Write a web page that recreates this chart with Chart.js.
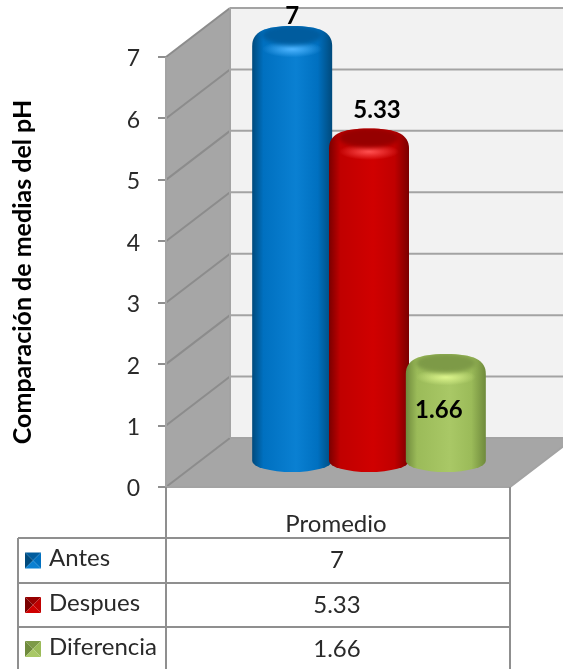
<!DOCTYPE html>
<html>
<head>
<meta charset="utf-8">
<title>Comparación de medias del pH</title>
<script src="https://cdn.jsdelivr.net/npm/chart.js@4"></script>
<style>
    html, body { margin: 0; padding: 0; background: #fff; overflow: hidden; }
    canvas { display: block; }
</style>
</head>
<body>
<canvas id="ph-chart" width="563" height="669"></canvas>
<script>
const categories = ['Promedio'];
const seriesNames = ['Antes', 'Despues', 'Diferencia'];
const antes = [7];
const despues = [5.33];
const diferencia = [1.66];
const yTicks = [0, 1, 2, 3, 4, 5, 6, 7];

const FONT = 'Lato, "Open Sans", sans-serif';
const TEXT = '#2a2a2a';
const LINE = '#8f8f8f';

// dark edge, main, bright middle, cap, highlight
const colours = [
    { edge: '#004a7c', main: '#0070c0', bright: '#0a80d2', cap: '#005c9e', glow: '#4db4ff' },
    { edge: '#7a0000', main: '#c00000', bright: '#d00000', cap: '#960000', glow: '#ff5050' },
    { edge: '#6f8a3c', main: '#9bbb59', bright: '#a9c866', cap: '#7d9a47', glow: '#dcf58c' }
];

// 3D box, offsets from the front axis to the back wall
const DEPTH_X = 64;
const DEPTH_Y = 49;

function drawWalls(chart) {
    const ctx = chart.ctx;
    const { left, right, top, bottom } = chart.chartArea;
    const y = chart.scales.y;

    ctx.save();
    // back wall
    ctx.fillStyle = '#f2f2f2';
    ctx.fillRect(left + DEPTH_X, top - DEPTH_Y, 563 - left - DEPTH_X, bottom - top);
    // left wall
    ctx.fillStyle = '#a6a6a6';
    ctx.beginPath();
    ctx.moveTo(left, top);
    ctx.lineTo(left + DEPTH_X, top - DEPTH_Y);
    ctx.lineTo(left + DEPTH_X, bottom - DEPTH_Y);
    ctx.lineTo(left, bottom);
    ctx.closePath();
    ctx.fill();
    // floor
    ctx.beginPath();
    ctx.moveTo(left, bottom);
    ctx.lineTo(left + DEPTH_X, bottom - DEPTH_Y);
    ctx.lineTo(right + DEPTH_X, bottom - DEPTH_Y);
    ctx.lineTo(right, bottom);
    ctx.closePath();
    ctx.fill();

    ctx.lineWidth = 2;
    yTicks.forEach((t) => {
        const py = y.getPixelForValue(t);
        ctx.strokeStyle = '#8c8c8c';
        ctx.beginPath();
        ctx.moveTo(left, py);
        ctx.lineTo(left + DEPTH_X, py - DEPTH_Y);
        ctx.stroke();
        ctx.strokeStyle = '#a3a3a3';
        ctx.beginPath();
        ctx.moveTo(left + DEPTH_X, py - DEPTH_Y);
        ctx.lineTo(right + DEPTH_X, py - DEPTH_Y);
        ctx.stroke();
    });
    ctx.strokeStyle = '#a3a3a3';
    ctx.beginPath();
    ctx.moveTo(left + DEPTH_X, top - DEPTH_Y);
    ctx.lineTo(left + DEPTH_X, bottom - DEPTH_Y);
    ctx.moveTo(left, top);
    ctx.lineTo(left, bottom);
    ctx.moveTo(left, bottom);
    ctx.lineTo(right, bottom);
    ctx.lineTo(right + DEPTH_X, bottom - DEPTH_Y);
    ctx.stroke();
    ctx.restore();
}

function drawCylinder(ctx, bar, c) {
    const cx = bar.x + 31;
    const rx = 40;
    const ry = 13;
    const topY = bar.y - 18;
    const baseY = bar.base - 25;
    const x0 = cx - rx;
    const x1 = cx + rx;

    const side = ctx.createLinearGradient(x0, 0, x1, 0);
    side.addColorStop(0, c.edge);
    side.addColorStop(0.14, c.main);
    side.addColorStop(0.55, c.bright);
    side.addColorStop(0.82, c.main);
    side.addColorStop(1, c.edge);

    ctx.save();
    ctx.beginPath();
    ctx.moveTo(x0, baseY);
    ctx.lineTo(x0, topY + 7);
    ctx.bezierCurveTo(x0, topY - 7, cx - 28, topY - ry, cx, topY - ry);
    ctx.bezierCurveTo(cx + 28, topY - ry, x1, topY - 7, x1, topY + 7);
    ctx.lineTo(x1, baseY);
    ctx.ellipse(cx, baseY, rx, 11, 0, 0, Math.PI);
    ctx.closePath();
    ctx.fillStyle = side;
    ctx.fill();
    ctx.clip();

    // highlight on the rim
    const glow = ctx.createRadialGradient(cx, topY + 10, 1, cx, topY + 10, 30);
    glow.addColorStop(0, c.glow);
    glow.addColorStop(1, c.glow + '00');
    ctx.save();
    ctx.translate(cx, topY + 10);
    ctx.scale(1, 0.28);
    ctx.translate(-cx, -(topY + 10));
    ctx.fillStyle = glow;
    ctx.fillRect(cx - 40, topY - 60, 80, 140);
    ctx.restore();

    // inner top of the cylinder
    ctx.fillStyle = c.cap;
    ctx.filter = 'blur(2px)';
    ctx.beginPath();
    ctx.ellipse(cx, topY - 4, rx - 10, 10, 0, 0, Math.PI * 2);
    ctx.fill();
    ctx.restore();
}

function drawKey(ctx, x, y, s, c) {
    const mx = x + s / 2;
    const my = y + s / 2;
    const faces = [
        [c.cap, [x, y], [x + s, y]],
        [c.edge, [x, y], [x, y + s]],
        [c.main, [x + s, y], [x + s, y + s]],
        [c.bright, [x, y + s], [x + s, y + s]]
    ];
    faces.forEach(([fill, a, b]) => {
        ctx.fillStyle = fill;
        ctx.beginPath();
        ctx.moveTo(a[0], a[1]);
        ctx.lineTo(b[0], b[1]);
        ctx.lineTo(mx, my);
        ctx.closePath();
        ctx.fill();
    });
}

function drawTable(chart) {
    const ctx = chart.ctx;
    const { left, right, bottom } = chart.chartArea;
    const tableLeft = 18;
    const rows = [538, 583, 627, 671];
    const values = [antes[0], despues[0], diferencia[0]];

    ctx.save();
    ctx.strokeStyle = LINE;
    ctx.lineWidth = 2;
    ctx.beginPath();
    ctx.moveTo(left, bottom);
    ctx.lineTo(left, 669);
    ctx.moveTo(right, bottom);
    ctx.lineTo(right, 669);
    ctx.moveTo(tableLeft, rows[0]);
    ctx.lineTo(tableLeft, 669);
    rows.forEach((r) => {
        ctx.moveTo(tableLeft, r);
        ctx.lineTo(right, r);
    });
    ctx.stroke();

    ctx.font = '24px ' + FONT;
    ctx.textBaseline = 'middle';
    seriesNames.forEach((name, i) => {
        const midY = (rows[i] + rows[i + 1]) / 2;
        drawKey(ctx, 25, midY - 8, 16, colours[i]);

        ctx.fillStyle = TEXT;
        ctx.textAlign = 'left';
        ctx.fillText(name, 49, midY - 2);
        ctx.textAlign = 'center';
        ctx.fillText(String(values[i]), (left + right) / 2 - 1, midY);
    });
    ctx.restore();
}

const box3d = {
    id: 'box3d',
    beforeDatasetsDraw(chart) {
        drawWalls(chart);
    },
    afterDatasetsDraw(chart) {
        const ctx = chart.ctx;
        const bars = chart.data.datasets.map((d, i) => chart.getDatasetMeta(i).data[0]);
        bars.forEach((bar, i) => drawCylinder(ctx, bar, colours[i]));

        // value labels
        const labelShift = [[0, -23], [8, -31], [-7, 43]];
        ctx.save();
        ctx.font = 'bold 24px ' + FONT;
        ctx.fillStyle = '#000';
        ctx.textAlign = 'center';
        ctx.textBaseline = 'middle';
        bars.forEach((bar, i) => {
            const value = chart.data.datasets[i].data[0];
            ctx.fillText(String(value), bar.x + 31 + labelShift[i][0], bar.y - 18 + labelShift[i][1]);
        });
        ctx.restore();

        drawTable(chart);
    }
};

new Chart(document.getElementById('ph-chart'), {
    type: 'bar',
    data: {
        labels: categories,
        datasets: [
            { label: seriesNames[0], data: antes, backgroundColor: 'transparent' },
            { label: seriesNames[1], data: despues, backgroundColor: 'transparent' },
            { label: seriesNames[2], data: diferencia, backgroundColor: 'transparent' }
        ]
    },
    options: {
        responsive: false,
        animation: false,
        layout: { padding: { top: 57, right: 53, left: 0, bottom: 0 } },
        datasets: { bar: { barPercentage: 1, categoryPercentage: 0.67 } },
        plugins: {
            legend: { display: false },
            tooltip: { enabled: false }
        },
        scales: {
            x: {
                afterFit(scale) { scale.height = 182; },
                grid: { display: false },
                border: { display: false },
                ticks: { color: TEXT, font: { family: FONT, size: 24 }, padding: 15, labelOffset: -2 }
            },
            y: {
                min: 0,
                max: 7,
                afterFit(scale) { scale.width = 166; },
                afterBuildTicks(scale) { scale.ticks = yTicks.map((v) => ({ value: v })); },
                grid: { drawOnChartArea: false, color: LINE, lineWidth: 2, tickLength: 8 },
                border: { display: false },
                ticks: { color: TEXT, font: { family: FONT, size: 23 }, padding: 18, labelOffset: 2 },
                title: {
                    display: true,
                    text: 'Comparación de medias del pH',
                    color: '#000',
                    font: { family: FONT, size: 25, weight: 'bold' },
                    padding: { top: 8, bottom: 0 }
                }
            }
        }
    },
    plugins: [box3d]
});
</script>
</body>
</html>
